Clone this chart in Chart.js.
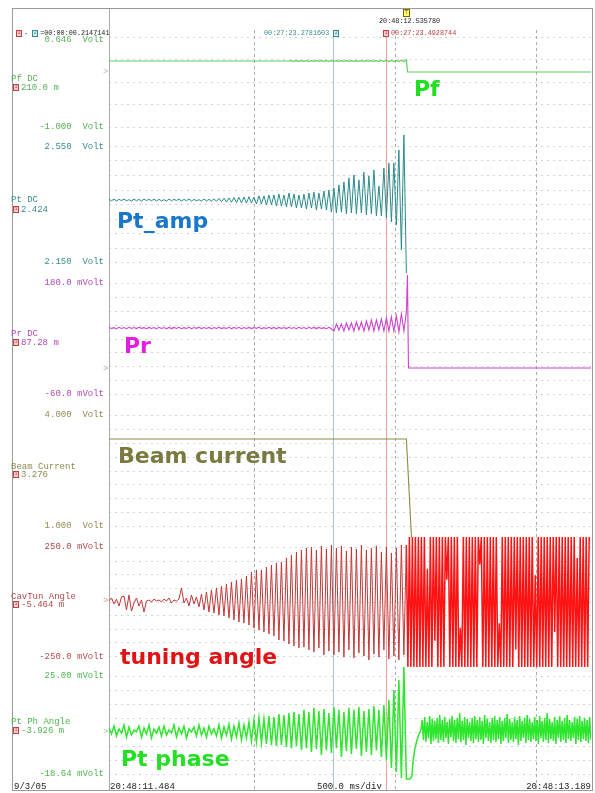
<!DOCTYPE html>
<html><head><meta charset="utf-8">
<script src="https://cdn.jsdelivr.net/npm/chart.js@4/dist/chart.umd.min.js"></script>
<style>
body{margin:0;background:#fff;}
#wrap{position:relative;width:595px;height:793px;overflow:hidden;background:#fff;}
#c{position:absolute;left:0;top:0;}
.t{position:absolute;font-family:"Liberation Mono",monospace;font-size:9px;line-height:10px;white-space:pre;}
.s{position:absolute;font-family:"Liberation Mono",monospace;font-size:6.8px;line-height:8px;white-space:pre;}
.big{position:absolute;font-family:"DejaVu Sans",sans-serif;font-weight:bold;font-size:22px;line-height:22px;white-space:pre;}
.bx{display:inline-block;width:4px;height:5px;border:1px solid;font-size:5px;line-height:5px;text-align:center;vertical-align:middle;margin-right:2px;}
</style></head>
<body><div id="wrap"><canvas id="c" width="595" height="793"></canvas></div>
<script>
// ---------------- time base (ms after 20:48:11.484) ----------------
const T_END = 1705;
const STEP_MS = 8.84;
const FINE_MS = 5.3;
const NOISE_MS = 4.42;
const gridTimes = [512, 1012, 1512];
const cursor1Ms = 980;
const cursor2Ms = 792;

// ---------------- channels ----------------
const chanNames = ['Pf DC','Pt DC','Pr DC','Beam Current','CavTun Angle','Pt Ph Angle'];
const chanTop = [0.646, 2.550, 180.0, 4.000, 250.0, 25.00];
const chanBottom = [-1.000, 2.150, -60.0, 1.000, -250.0, -18.64];
const topLabels = ['0.646  Volt','2.550  Volt','180.0 mVolt','4.000  Volt','250.0 mVolt','25.00 mVolt'];
const bottomLabels = ['-1.000  Volt','2.150  Volt','-60.0 mVolt','1.000  Volt','-250.0 mVolt','-18.64 mVolt'];
const dcLabels = ['210.0 m','2.424','87.28 m','3.276','-5.464 m','-3.926 m'];
const bigLabels = ['Pf','Pt_amp','Pr','Beam current','tuning angle','Pt phase'];

// Pf (V)
const pfTime = [0, 636, 1052, 1056, 1705];
const pfValue = [0.207, 0.207, 0.228, 0.006, 0.006];
const pfRippleStart = 645;
const pfRipple = [0.214,0.200,0.215,0.199,0.214,0.200,0.215,0.199,0.214,0.200,
0.215,0.199,0.214,0.200,0.215,0.199,0.214,0.200,0.215,0.199,
0.214,0.200,0.215,0.199,0.214,0.200,0.215,0.199,0.214,0.200,
0.215,0.199,0.214,0.200,0.215,0.199,0.214,0.200,0.216,0.198,
0.217,0.198,0.218,0.197,0.220,0.198];

// Pt amplitude (V), sampled every STEP_MS from 0
const ptAmpBase = [2.366,2.361,2.367,2.360,2.366,2.362,2.367,2.361,2.365,2.360,
2.367,2.361,2.366,2.360,2.367,2.362,2.366,2.361,2.367,2.360,
2.366,2.361,2.365,2.360,2.367,2.361,2.366,2.362,2.367,2.360,
2.366,2.361,2.367,2.360,2.366,2.361,2.365,2.360,2.367,2.361,
2.366,2.360,2.368,2.359,2.369,2.358,2.370,2.357,2.371,2.356,
2.372,2.355,2.373,2.354,2.374,2.353,2.375];
const ptAmpGrowth = [2.353,2.374,2.350,2.378,2.350,2.378,2.347,2.381,2.347,2.381,
2.343,2.384,2.343,2.381,2.340,2.388,2.340,2.384,2.336,2.381,
2.336,2.384,2.333,2.388,2.336,2.391,2.329,2.388,2.333,2.395,
2.329,2.398,2.322,2.405,2.319,2.416,2.322,2.426,2.316,2.440,
2.319,2.450,2.316,2.433,2.319,2.460,2.312,2.447,2.316,2.467,
2.309,2.412,2.309,2.474,2.302,2.491,2.288,2.491,2.278,2.536,
2.191,2.588,2.112];

// Pr (mV), sampled every STEP_MS from 0
const prRipple = [84.0,81.6,83.5,81.2,84.2,81.8,83.6,81.3,84.1,81.7,
83.8,81.4,84.3,81.9,83.5,81.2,84.0,81.6,83.7,81.3,
84.2,81.8,83.6,81.1,84.0,81.5,83.9,81.7,84.3,81.2,
83.5,81.6,84.1,81.3,83.8,81.9,84.2,81.4,83.6,81.8,
84.0,81.2,83.7,81.6,84.3,81.5,83.5,81.7,84.1,81.3,
83.9,81.8,84.2,81.2,83.6,81.6,84.0,81.4,83.8,81.9,
84.1,81.3,83.5,81.7,84.2,81.5,83.9,81.2,84.0,81.6,
83.7,81.4,84.3,81.8,83.6,81.3,84.1,81.7,83.8,81.2,
84.2,81.6,83.9,81.4,84.0,81.8,83.5,81.3,84.2,81.0];
const prOsc = [76.2,91.4,78.4,91.4,76.2,93.5,78.4,93.5,76.2,95.7,
78.4,95.7,76.2,97.8,78.4,100.0,76.2,100.0,78.4,102.2,
76.2,104.3,76.2,106.5,76.2,108.7,74.1,113.0,76.2,117.3];
const prTripTime = [1055.8, 1059.3, 1705];
const prTripValue = [197.3, -3.8, -3.8];

// Beam current (V)
const beamTime = [0, 1052, 1070];
const beamValue = [3.351, 3.351, 0.70];

// Cavity tuning angle (mV)
const ctPre = [2,16,-11,11,-21,21,25,-39,30,-44,
-7,16,-21,7,-48,2,7,-2,11,2,
7,-2,11,2,16,-7,7,2,11,62,
-7,16,-21,30,-11,21,-25,34,-39,44,
-48,53,-53,62,-62,71,-66,80,-76,89,
-85,99,-94,103,-99,117,-108,135,-122,145,
-131,145,-140,158,-149,167,-158,177,-177,181,
-181,200,-195,213,-204,227,-213,236,-209,245,
-222,250,-232,236,-213,255,-245,241,-227,259,
-245,245,-232,255,-255,232,-222,250,-259,241,
-236,259,-250,236,-268,245,-241,255,-255,227,
-222,250,-264,222,-250,245,-268,259,-245,259];
const ctPostStart = 1052;
const ctPost = [259,-300,296,-300,296,-300,296,-300,296,-300,296,
-300,296,-300,150,-300,296,-300,296,-180,296,
-300,296,-300,296,-300,296,100,296,-300,296,
-300,296,-300,296,-300,-120,-300,296,-300,296,
-300,296,-300,296,-300,296,-300,296,170,296,
-300,296,-300,296,-300,296,-300,296,-300,296,
-300,-100,-300,296,-300,296,-300,296,-300,296,
-300,296,-220,296,-300,296,-300,296,-300,296,
-300,296,-300,296,-300,120,-300,296,-300,296,
-300,296,-300,296,-300,296,-300,296,-140,296,
-300,296,-300,296,-300,296,-300,296,-300,296,
-300,296,-300,200,-300,296,-300,296,-300,296,
-300,296];

// Pt phase angle (mV)
const phPre = [1.8,-0.8,2.7,-1.7,1.4,-0.4,3.2,-2.2,2.3,-1.3,
1.0,0.1,2.7,-2.2,1.8,-0.8,3.2,-2.6,1.4,-0.4,
2.3,-1.7,2.7,-1.3,1.0,-0.4,3.2,-2.2,1.8,-0.8,
2.7,-2.6,1.4,0.1,2.3,-1.7,3.2,-1.3,1.8,-2.2,
2.7,-0.8,1.4,-1.7,3.2,-2.6,2.3,-1.3,3.6,-3.1,
2.7,-2.2,4.1,-3.5,3.2,-2.6,4.5,
-3.9,5.4,-4.4,6.3,-4.8,5.9,-5.3,7.2,-5.7,6.7,
-6.2,8.1,-5.7,7.6,-6.6,8.5,-7.1,9.0,-6.2,8.1,
-8.0,9.9,-7.1,9.0,-8.8,10.8,-7.5,9.4,-10.2,10.3,
-8.0,8.5,-9.3,11.2,-7.1,9.9,-11.1,9.0,-8.4,10.8,
-9.7,9.9,-7.5,11.2,-10.6,9.4,-8.8,10.3,-10.2,11.6,
-8.0,9.9,-11.1,12.1,
-12.4,14.3,-16.0,18.8,-17.7,23.2,-20.4,29.0,-20.9];
const phRecoveryTime = [1057.6, 1064.6, 1071.7, 1075.2, 1082.3, 1089.4, 1096.5, 1103.5];
const phRecoveryValue = [-20.9, -20.9, -19.5, -13.3, -7.1, -3.5, -0.8, 1.0];
const phNoiseStart = 1107.9;
const phNoise = [5.4,-3.5,6.7,-4.4,4.5,-2.6,7.2,-5.3,5.9,-3.9,
5.0,-3.1,6.3,-4.8,7.6,-3.5,5.4,-4.4,6.7,-2.6,
4.5,-5.3,5.9,-2.2,7.2,-3.9,5.4,-4.8,6.3,-3.1,
8.5,-4.4,5.0,-3.5,6.7,-5.7,5.9,-2.6,4.5,-3.9,
6.3,-4.8,7.2,-3.1,5.4,-4.4,6.7,-3.5,5.0,-5.3,
7.6,-2.6,5.9,-3.9,4.5,-4.8,6.3,-3.5,7.2,-4.4,
5.4,-3.1,6.7,-5.3,5.0,-3.9,6.3,-2.6,8.1,-4.8,
5.9,-3.5,4.5,-4.4,6.7,-3.1,5.4,-5.7,7.2,-3.9,
5.0,-2.6,6.3,-4.8,7.6,-3.5,5.9,-4.4,4.5,-3.1,
6.7,-3.9,5.4,-5.3,7.2,-2.6,5.0,-4.4,6.3,-3.5,
8.5,-4.8,5.9,-3.1,4.5,-3.9,6.7,-5.3,5.4,-2.6,
7.2,-4.4,5.0,-3.5,6.3,-4.8,7.6,-3.1,5.4,-3.9,
4.5,-2.6,6.7,-5.3,5.9,-3.5,7.2,-4.4,5.0,-3.1,
6.3,-3.9,5.4,-4.8,6.7,-3.5];

// ---------------- layout / style (not data) ----------------
const AREA = {left:109, right:591, top:8, bottom:790};
const panelTopPx = [37, 146, 283, 415, 547, 676];
const panelBottomPx = [127, 262, 394, 526, 656, 774];
const panelDivs = [4, 8, 8, 8, 8, 7];
const topLabelY = [40, 147, 283, 415, 547, 676];
const bottomLabelY = [127, 262, 394, 526, 657, 774];
const nameY = [79, 200, 334, 467, 597, 722];
const dcY = [88, 210, 343, 475, 605, 731];
const bigPos = [[414,77.5],[117,209.5],[124,334.5],[118,444.5],[120,646],[121,747.5]];
const zeroMarkY = [72, null, 369, null, 601, 732];
const labelColor = ['#55b055','#3a8c8c','#b24bb2','#8c8c50','#b04a4a','#4cb84c'];
const traceColor = ['#5fcf5f','#2a8a8a','#cc44cc','#8b8b45','#c03838','#2ee62e'];
const bigColor = ['#1ee01e','#1a78cc','#e020e0','#7a7a40','#e01414','#22e022'];

// ---------------- build points ----------------
const sampled = (t0, dt, vals) => vals.map((v,i)=>({x:t0+i*dt, y:v}));
const paired = (ts, vs) => ts.map((t,i)=>({x:t, y:vs[i]}));
const merge = (...parts) => parts.flat().sort((a,b)=>a.x-b.x);

const lines = [
  {ch:0, pts: merge(paired(pfTime,pfValue), sampled(pfRippleStart, STEP_MS, pfRipple)), color:traceColor[0], w:1.2},
  {ch:1, pts: sampled(0, STEP_MS, ptAmpBase.concat(ptAmpGrowth)), color:traceColor[1], w:1},
  {ch:2, pts: merge(sampled(0, STEP_MS, prRipple.concat(prOsc)), paired(prTripTime, prTripValue)), color:traceColor[2], w:1.1},
  {ch:3, pts: paired(beamTime, beamValue), color:traceColor[3], w:1.1},
  {ch:4, pts: sampled(0, STEP_MS, ctPre), color:traceColor[4], w:1},
  {ch:4, pts: sampled(ctPostStart, FINE_MS, ctPost), color:'#ff1212', w:1.5},
  {ch:5, pts: merge(sampled(0, STEP_MS, phPre), paired(phRecoveryTime, phRecoveryValue), sampled(phNoiseStart, NOISE_MS, phNoise)), color:traceColor[5], w:1.5}
];

const scales = {x:{type:'linear', min:0, max:T_END, display:false}};
chanTop.forEach((hi,i)=>{
  const lo = chanBottom[i];
  const vpp = (hi-lo)/(panelBottomPx[i]-panelTopPx[i]);
  scales['y'+i] = {type:'linear', display:false,
    max: hi + (panelTopPx[i]-AREA.top)*vpp,
    min: lo - (AREA.bottom-panelBottomPx[i])*vpp};
});

const datasets = lines.map(l=>({
  label: chanNames[l.ch], data: l.pts, yAxisID:'y'+l.ch,
  borderColor: l.color, borderWidth: l.w, pointRadius: 0, tension: 0
}));

const scopeGrid = {
  id:'scopeGrid',
  beforeDatasetsDraw(chart){
    const {ctx, chartArea:a} = chart;
    const sx = chart.scales.x;
    ctx.save();
    ctx.lineWidth = 1;
    const line=(x1,y1,x2,y2)=>{ctx.beginPath();ctx.moveTo(x1,y1);ctx.lineTo(x2,y2);ctx.stroke();};
    ctx.strokeStyle = '#d2d2d2'; ctx.setLineDash([2,4]);
    chanTop.forEach((hi,i)=>{
      const lo = chanBottom[i], n = panelDivs[i], s = chart.scales['y'+i];
      for(let k=0;k<=n;k++){
        const y = Math.round(s.getPixelForValue(lo+(hi-lo)*k/n))+0.5;
        line(a.left, y, a.right, y);
      }
    });
    ctx.strokeStyle = '#ababab'; ctx.setLineDash([3,3]);
    gridTimes.forEach(t=>{const x=Math.round(sx.getPixelForValue(t))+0.5; line(x,a.top+22,x,a.bottom);});
    ctx.setLineDash([]);
    let x = Math.round(sx.getPixelForValue(cursor2Ms))+0.5;
    ctx.strokeStyle = '#a9c6d6'; line(x, 30, x, a.bottom);
    x = Math.round(sx.getPixelForValue(cursor1Ms))+0.5;
    ctx.strokeStyle = '#f2a0a0'; line(x, 30, x, a.bottom);
    ctx.strokeStyle = '#aaaaaa';
    line(a.left+0.5, a.top, a.left+0.5, a.bottom);
    ctx.restore();
  }
};

new Chart(document.getElementById('c'), {
  type:'line',
  data:{datasets},
  options:{responsive:false, animation:false, devicePixelRatio:1,
    layout:{padding:{left:AREA.left, right:595-AREA.right, top:AREA.top, bottom:793-AREA.bottom}},
    plugins:{legend:{display:false}, tooltip:{enabled:false}},
    scales},
  plugins:[scopeGrid]
});

// ---------------- text ----------------
const wrap = document.getElementById('wrap');
function el(cls, html, style){const d=document.createElement('div');d.className=cls;d.innerHTML=html;Object.assign(d.style,style);wrap.appendChild(d);return d;}
const box = (n,c,bg)=>`<span class="bx" style="border-color:${c};background:${bg};color:${c}">${n}</span>`;
el('', '', {position:'absolute',left:'12px',top:'8px',width:'581px',height:'783px',border:'1px solid #9a9a9a',boxSizing:'border-box'});

chanTop.forEach((v,i)=>{
  const c = labelColor[i];
  el('t', topLabels[i], {right:(595-104)+'px', top:(topLabelY[i]-5)+'px', color:c});
  el('t', bottomLabels[i], {right:(595-104)+'px', top:(bottomLabelY[i]-5)+'px', color:c});
  el('t', chanNames[i], {left:'11px', top:(nameY[i]-5)+'px', color:c});
  el('t', box('1','#c04040','#f8d0d0')+dcLabels[i], {left:'13px', top:(dcY[i]-5)+'px', color:c});
  el('big', bigLabels[i], {left:bigPos[i][0]+'px', top:bigPos[i][1]+'px', color:bigColor[i]});
  if(zeroMarkY[i]!==null) el('t', '&gt;', {left:'103px', top:(zeroMarkY[i]-5)+'px', color:c, opacity:0.6});
});
el('s', box('1','#c04040','#f8d0d0')+'- '+box('2','#3a8c8c','#d0ecec')+'=00:00:00.2147141', {left:'16px', top:'29px', color:'#222'});
el('s', '00:27:23.2781603 '+box('2','#3a8c8c','#d0ecec'), {left:'264px', top:'29px', color:'#3a8c8c'});
el('s', box('1','#c04040','#f8d0d0')+'00:27:23.4928744', {left:'383px', top:'29px', color:'#c04040'});
el('s', '<span style="display:inline-block;width:5px;height:6px;border:1px solid #806000;background:#ffff70;font-size:5px;line-height:6px;text-align:center">T</span>', {left:'403px', top:'8px', color:'#806000'});
el('s', '20:48:12.535780', {left:'379px', top:'17px', color:'#222'});
el('t', '9/3/05', {left:'14px', top:'782px', color:'#222'});
el('t', '20:48:11.484', {left:'110px', top:'782px', color:'#222'});
el('t', '500.0 ms/div', {left:'317px', top:'782px', color:'#222'});
el('t', '20:48:13.189', {right:(595-591)+'px', top:'782px', color:'#222'});
</script>
</body></html>
